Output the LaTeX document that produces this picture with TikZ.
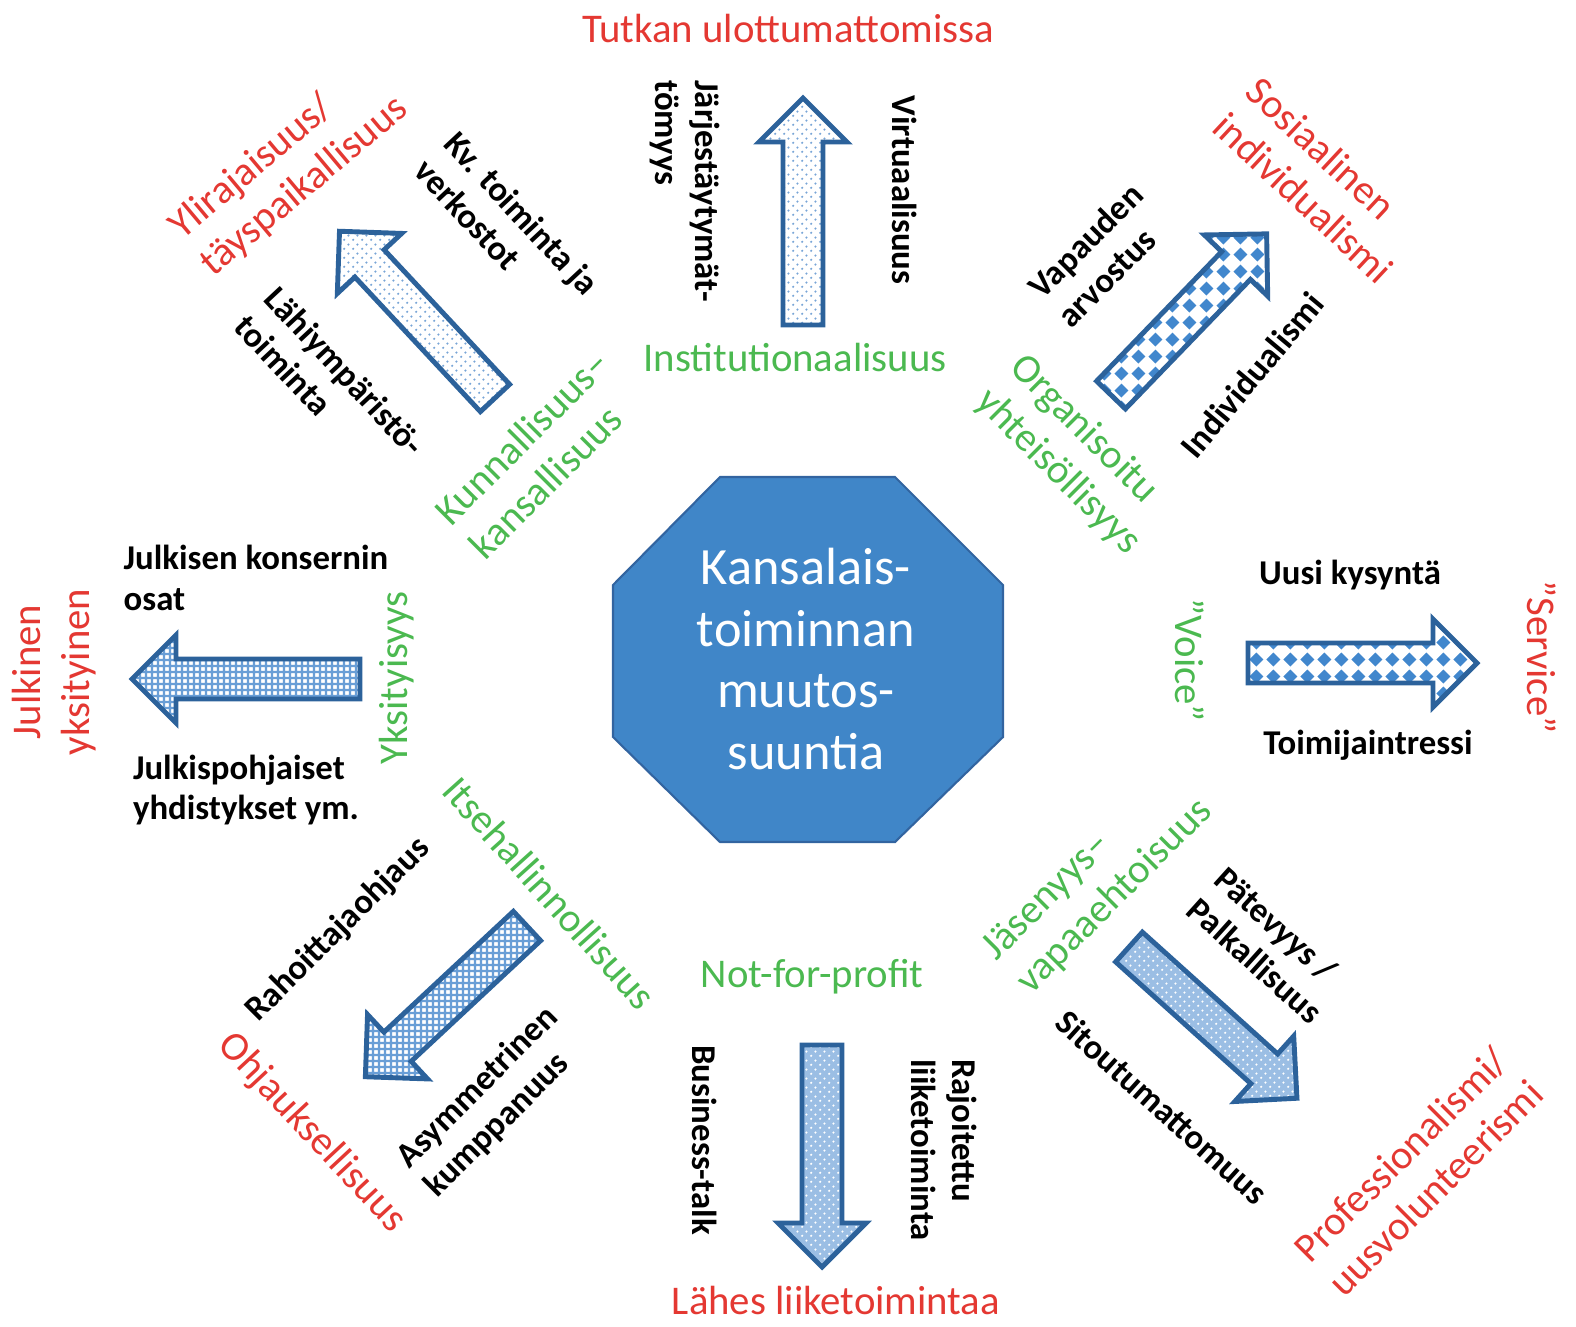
\documentclass[tikz,border=0pt]{standalone}
\usepackage{fontspec}
\setmainfont{Carlito}
\usetikzlibrary{patterns.meta}

\definecolor{labelred}{RGB}{228,56,50}
\definecolor{labelgreen}{RGB}{75,185,80}
\definecolor{hexfill}{RGB}{64,134,200}
\definecolor{hexedge}{RGB}{50,100,160}
\definecolor{arrowedge}{RGB}{44,98,155}
\definecolor{speckblue}{RGB}{120,165,215}
\definecolor{paleblue}{RGB}{155,190,228}
\definecolor{diamondblue}{RGB}{65,135,205}
\definecolor{gridblue}{RGB}{105,158,214}

\pgfdeclarepattern{
  name=specks, type=uncolored,
  bottom left={\pgfpoint{0pt}{0pt}}, top right={\pgfpoint{5pt}{5pt}},
  tile size={\pgfpoint{5pt}{5pt}},
  code={
    \pgfpathcircle{\pgfpoint{1.25pt}{1.25pt}}{.7pt}
    \pgfpathcircle{\pgfpoint{3.75pt}{3.75pt}}{.7pt}
    \pgfusepath{fill}
  }
}
\pgfdeclarepattern{
  name=diamonds, type=uncolored,
  bottom left={\pgfpoint{0pt}{0pt}}, top right={\pgfpoint{9.6pt}{9.6pt}},
  tile size={\pgfpoint{9.6pt}{9.6pt}},
  code={
    \pgfpathmoveto{\pgfpoint{0.8pt}{4.8pt}}
    \pgfpathlineto{\pgfpoint{4.8pt}{0.8pt}}
    \pgfpathlineto{\pgfpoint{8.8pt}{4.8pt}}
    \pgfpathlineto{\pgfpoint{4.8pt}{8.8pt}}
    \pgfpathclose
    \pgfusepath{fill}
  }
}
\pgfdeclarepattern{
  name=plaid, type=uncolored,
  bottom left={\pgfpoint{0pt}{0pt}}, top right={\pgfpoint{3.4pt}{3.4pt}},
  tile size={\pgfpoint{3.4pt}{3.4pt}},
  code={
    \pgfsetlinewidth{1.2pt}
    \pgfpathmoveto{\pgfpoint{0pt}{1.7pt}}\pgfpathlineto{\pgfpoint{3.4pt}{1.7pt}}
    \pgfpathmoveto{\pgfpoint{1.7pt}{0pt}}\pgfpathlineto{\pgfpoint{1.7pt}{3.4pt}}
    \pgfusepath{stroke}
  }
}

% tail, angle, length, look
\newcommand{\blockarrow}[4]{%
  \draw[arrowbody,#4,shift={#1},rotate=#2]
    (0,-20) -- ({#3-44},-20) -- ({#3-44},-44) -- (#3,0)
    -- ({#3-44},44) -- ({#3-44},20) -- (0,20) -- cycle;}

\begin{document}
\begin{tikzpicture}[x=0.02cm, y=-0.02cm,
    redtxt/.style={text=labelred, font=\fontsize{23.2}{27.5}\selectfont, align=left, inner sep=0pt},
    greentxt/.style={text=labelgreen, font=\fontsize{23.2}{27.5}\selectfont, align=left, inner sep=0pt},
    blacktxt/.style={font=\fontsize{19.8}{23.2}\selectfont\bfseries, align=left, inner sep=0pt},
    arrowbody/.style={draw=arrowedge, line width=2.8pt},
    specked/.style={preaction={fill=white}, pattern=specks, pattern color=speckblue},
    bluespecked/.style={preaction={fill=paleblue}, pattern=specks, pattern color=white},
    diamonded/.style={preaction={fill=white}, pattern=diamonds, pattern color=diamondblue},
    gridded/.style={preaction={fill=white}, pattern=plaid, pattern color=gridblue}]
  \useasboundingbox (0,0) rectangle (1576,1326);

  % centre
  \draw[fill=hexfill, draw=hexedge, line width=1.2pt]
    (720,477) -- (895,477) -- (1003,585) -- (1003,737) -- (895,842)
    -- (720,842) -- (613,737) -- (613,585) -- cycle;
  \node[text=white, font=\fontsize{29.8}{35.1}\selectfont, align=center] (core) at (806,659)
    {Kansalais-\\toiminnan\\muutos-\\suuntia};

  % arrows
  \blockarrow{(803,325)}{90}{227}{specked}
  \blockarrow{(1111,395)}{46}{224}{diamonded}
  \blockarrow{(1248,663)}{0}{229}{diamonded}
  \blockarrow{(1129,947)}{-42}{226}{bluespecked}
  \blockarrow{(822,1045)}{-90}{222}{bluespecked}
  \blockarrow{(527,926)}{223}{221}{gridded}
  \blockarrow{(360,679)}{180}{228}{gridded}
  \blockarrow{(495,398)}{133}{228}{specked}

  % outer goals
  \node[redtxt] (tutka) at (788,28) {Tutkan ulottumattomissa};
  \node[redtxt, rotate=40] (ylirajaisuus) at (289,168) {Ylirajaisuus/\\täyspaikallisuus};
  \node[redtxt, rotate=-43] (sosiaalinen) at (1320,180) {Sosiaalinen\\individualismi};
  \node[redtxt, rotate=-90] (service) at (1542,657) {”Service”};
  \node[redtxt, rotate=45] (professio) at (1418,1171) {Professionalismi/\\uusvolunteerismi};
  \node[redtxt] (lahes) at (836,1300) {Lähes liiketoimintaa};
  \node[redtxt, rotate=-47] (ohjaus) at (312,1133) {Ohjauksellisuus};
  \node[redtxt, rotate=90, align=center] (julkinen) at (54,672) {Julkinen\\yksityinen};

  % starting points
  \node[greentxt] (instit) at (795,357) {Institutionaalisuus};
  \node[greentxt, rotate=-45] (organ) at (1075,455) {Organisoitu\\yhteisöllisyys};
  \node[greentxt, rotate=-90] (voice) at (1190,660) {”Voice”};
  \node[greentxt, rotate=45] (jasen) at (1098,880) {Jäsenyys–\\vapaaehtoisuus};
  \node[greentxt, rotate=45] (kunnal) at (539,454) {Kunnallisuus–\\kansallisuus};
  \node[greentxt, rotate=90] (yksit) at (397,678) {Yksityisyys};
  \node[greentxt, rotate=-48] (itseh) at (550,893) {Itsehallinnollisuus};
  \node[greentxt] (nfp) at (812,977) {Not-for-profit};

  % drivers
  \node[blacktxt, rotate=-90] (jarj) at (685,191) {Järjestäytymät-\\tömyys};
  \node[blacktxt, rotate=-90] (virt) at (905,190) {Virtuaalisuus};
  \node[blacktxt, rotate=-47] (kv) at (507,227) {Kv. toiminta ja\\verkostot};
  \node[blacktxt, rotate=-47] (lahi) at (330,385) {Lähiympäristö-\\toiminta};
  \node[blacktxt, rotate=45] (vapaus) at (1100,255) {Vapauden\\arvostus};
  \node[blacktxt, rotate=50] (indiv) at (1252,375) {Individualismi};
  \node[blacktxt] (kysynta) at (1350,575) {Uusi kysyntä};
  \node[blacktxt] (intressi) at (1368,745) {Toimijaintressi};
  \node[blacktxt, rotate=-42] (patevyys) at (1269,945) {Pätevyys /\\Palkallisuus};
  \node[blacktxt, rotate=-42] (sitout) at (1162,1107) {Sitoutumattomuus};
  \node[blacktxt, rotate=-90] (rajoit) at (944,1150) {Rajoitettu\\liiketoiminta};
  \node[blacktxt, rotate=-90] (business) at (705,1140) {Business-talk};
  \node[blacktxt, rotate=45] (asym) at (492,1102) {Asymmetrinen\\kumppanuus};
  \node[blacktxt, rotate=45] (rahoit) at (338,930) {Rahoittajaohjaus};
  \node[blacktxt] (konserni) at (256,578) {Julkisen konsernin\\osat};
  \node[blacktxt] (julkisp) at (246,790) {Julkispohjaiset\\yhdistykset ym.};
\end{tikzpicture}
\end{document}
